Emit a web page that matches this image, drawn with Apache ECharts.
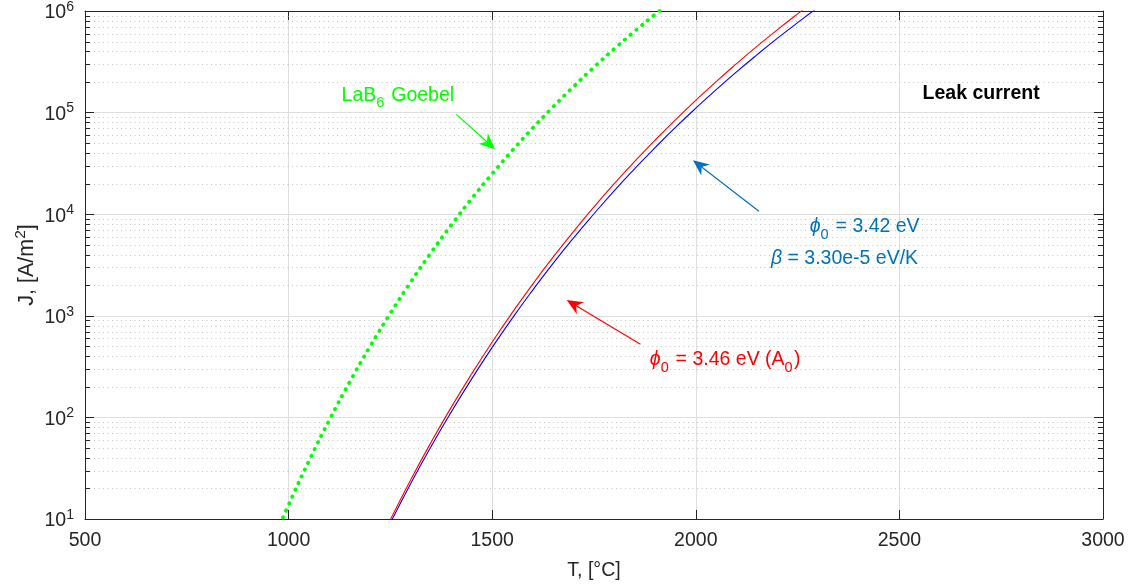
<!DOCTYPE html>
<html><head><meta charset="utf-8">
<script src="https://cdn.jsdelivr.net/npm/echarts@6/dist/echarts.min.js"></script>
<style>html,body{margin:0;padding:0;background:#fff}#c{width:1133px;height:586px}</style>
</head><body><div id="c"></div>
<script>
// ---- data ----
const tempGoebel = [950,1000,1050,1100,1150,1200,1250,1300,1350,1400,1450,1500,1550,1600,1650,1700,1750,1800,1850,1900,1950];
const jGoebel    = [4.74,13.8,37.3,94.1,223,498,1060,2150,4200,7870,14300,25000,42700,70800,114500,181000,280000,425000,633000,927000,1335000];
const tempModel  = [1250,1300,1350,1400,1450,1500,1550,1600,1650,1700,1750,1800,1850,1900,1950,2000,2050,2100,2150,2200,2250,2300];
const jPhi346    = [9.89,24.4,57.0,127,270,552,1086,2064,3800,6790,11800,20000,33100,53600,85000,132000,202000,303000,448000,653000,937000,1328000];
const jPhi342b   = [9.15,22.4,51.8,114,241,489,955,1800,3300,5860,10100,17100,28100,45200,71400,110500,168000,251500,370000,537000,768000,1085000];
const xTickVals  = [500,1000,1500,2000,2500,3000];
const yDecades   = [10,100,1000,10000,100000,1000000];

const FONT = '"Liberation Sans", Arial, Helvetica, sans-serif';
const FS = 19.5;
const AX = '#262626';
const TXT = '#262626';
const X_MIN = xTickVals[0], X_MAX = xTickVals[xTickVals.length-1];
const Y_MIN = yDecades[0], Y_MAX = yDecades[yDecades.length-1];

// minor (2..9) values of each decade for the dotted grid and minor ticks
const minorVals = [];
yDecades.slice(0,-1).forEach(d => { for (let k=2;k<=9;k++) minorVals.push(d*k); });

const chart = echarts.init(document.getElementById('c'), null, {renderer:'canvas'});

const labelRich = {
  b:{fontFamily:FONT,fontSize:FS,color:TXT,lineHeight:28,padding:[4,0,0,0]},
  s:{fontFamily:FONT,fontSize:14,color:TXT,verticalAlign:'top',lineHeight:14,padding:[3,0,0,0]}
};

const option = {
  animation:false,
  backgroundColor:'#fff',
  grid:{left:85,right:30,top:11,bottom:67,containLabel:false,outerBoundsMode:'none'},
  xAxis:[{
    type:'value',min:X_MIN,max:X_MAX,interval:500,position:'bottom',
    name:'T, [°C]',nameLocation:'middle',nameGap:42,nameMoveOverlap:false,
    nameTextStyle:{fontFamily:FONT,fontSize:FS,color:TXT},
    axisLine:{show:true,onZero:false,lineStyle:{color:AX,width:1}},
    axisTick:{show:true,inside:true,length:9,lineStyle:{color:AX}},
    axisLabel:{fontFamily:FONT,fontSize:FS,color:TXT,margin:12,formatter:v=>String(v)},
    splitLine:{show:true,lineStyle:{color:'#dedede',width:1}}
  },{
    type:'value',min:X_MIN,max:X_MAX,interval:500,position:'top',
    axisLine:{show:true,onZero:false,lineStyle:{color:AX,width:1}},
    axisTick:{show:true,inside:true,length:9,lineStyle:{color:AX}},
    axisLabel:{show:false},splitLine:{show:false}
  }],
  yAxis:[{
    type:'log',logBase:10,min:Y_MIN,max:Y_MAX,position:'left',
    name:'J, [A/m{sup|2}]',nameLocation:'middle',nameGap:44,nameMoveOverlap:false,
    nameTextStyle:{fontFamily:FONT,fontSize:21.5,color:TXT,lineHeight:28,
      rich:{sup:{fontFamily:FONT,fontSize:15.5,color:TXT,verticalAlign:'top',lineHeight:14}}},
    axisLine:{show:true,onZero:false,lineStyle:{color:AX,width:1}},
    axisTick:{show:true,inside:true,length:9,lineStyle:{color:AX}},
    axisLabel:{margin:11,formatter:v=>'{b|10}{s|'+Math.round(Math.log10(v))+'}',rich:labelRich},
    splitLine:{show:true,lineStyle:{color:'#dedede',width:1}}
  },{
    type:'log',logBase:10,min:Y_MIN,max:Y_MAX,position:'right',
    axisLine:{show:true,onZero:false,lineStyle:{color:AX,width:1}},
    axisTick:{show:true,inside:true,length:9,lineStyle:{color:AX}},
    axisLabel:{show:false},splitLine:{show:false}
  }],
  series:[{
    type:'custom',coordinateSystem:'cartesian2d',xAxisIndex:0,yAxisIndex:0,
    silent:true,z:1,clip:false,
    data:minorVals.map(v=>[X_MIN,v]),encode:{x:0,y:1},
    renderItem:(params,api)=>{
      const v = api.value(1);
      const p0 = api.coord([X_MIN,v]), p1 = api.coord([X_MAX,v]);
      const y = Math.round(p0[1])+0.5;
      return {type:'group',children:[
        {type:'line',shape:{x1:p0[0],y1:y,x2:p1[0],y2:y},style:{stroke:'#c4c4c4',lineWidth:1,lineDash:[1,3.5]}},
        {type:'line',shape:{x1:p0[0],y1:y,x2:p0[0]+5,y2:y},style:{stroke:AX,lineWidth:1}},
        {type:'line',shape:{x1:p1[0]-5,y1:y,x2:p1[0],y2:y},style:{stroke:AX,lineWidth:1}}
      ]};
    }
  },{
    name:'LaB6 Goebel',type:'line',xAxisIndex:0,yAxisIndex:0,z:3,
    data:tempGoebel.map((t,i)=>[t,jGoebel[i]]),
    smooth:true,symbol:'none',clip:true,
    lineStyle:{color:'#00ff00',width:3.7,type:[0.5,7],cap:'round'}
  },{
    name:'phi0 3.46',type:'line',xAxisIndex:0,yAxisIndex:0,z:3,
    data:tempModel.map((t,i)=>[t,jPhi346[i]]),
    smooth:true,symbol:'none',clip:true,
    lineStyle:{color:'#ff0000',width:1.1}
  },{
    name:'phi0 3.42 beta',type:'line',xAxisIndex:0,yAxisIndex:0,z:3,
    data:tempModel.map((t,i)=>[t,jPhi342b[i]]),
    smooth:true,symbol:'none',clip:true,
    lineStyle:{color:'#0000ff',width:1.1}
  }]
};
chart.setOption(option);

// ---- annotations, anchored in data coordinates ----
const measureCtx = document.createElement('canvas').getContext('2d');
function px(t,j){ return chart.convertToPixel({xAxisIndex:0,yAxisIndex:0},[t,j]); }
function textRun(parts, anchor, align, color, size, weight){
  const p = px(anchor[0],anchor[1]);
  const items = parts.map(([s,kind])=>{
    const fs = kind==='sub' ? 14.5 : size;
    const font = (kind==='it'?'italic ':'normal ') + (weight||'normal') + ' ' + fs + 'px ' + FONT;
    measureCtx.font = font;
    return {s,kind,fs,font,w:measureCtx.measureText(s).width};
  });
  const total = items.reduce((a,b)=>a+b.w,0);
  let x = align==='right' ? p[0]-total : p[0];
  return items.map(it=>{
    const base = p[1] + (it.kind==='sub' ? 6.5 : 0);
    const el = {type:'text',x:x,y:base-0.35*it.fs,z:20,silent:true,
      style:{text:it.s,font:it.font,fill:color,align:'left',verticalAlign:'middle'}};
    x += it.w + (it.kind==='sub' ? 1.5 : 0);
    return el;
  });
}
function arrow(tail, tip, color){
  const a = px(tail[0],tail[1]), b = px(tip[0],tip[1]);
  const dx=a[0]-b[0], dy=a[1]-b[1], len=Math.hypot(dx,dy), ux=dx/len, uy=dy/len;
  const L=16, W=7, N=11;
  const bx=b[0]+ux*L, by=b[1]+uy*L;
  const c1=[bx-uy*W, by+ux*W], c2=[bx+uy*W, by-ux*W];
  const notch=[b[0]+ux*N, b[1]+uy*N];
  return [
    {type:'line',z:20,silent:true,shape:{x1:a[0],y1:a[1],x2:notch[0],y2:notch[1]},style:{stroke:color,lineWidth:1.2}},
    {type:'polygon',z:20,silent:true,shape:{points:[b,c1,notch,c2]},style:{fill:color}}
  ];
}
const BLUE='#0072BD', RED='#ff0000', GREEN='#00ff00';
const els = [].concat(
  textRun([['LaB'],['6','sub'],[' Goebel']],[1130,1.27e5],'left',GREEN,FS),
  arrow([1412,9.6e4],[1507,4.37e4],GREEN),
  textRun([['Leak current']],[2557,1.31e5],'left','#000',FS,'bold'),
  textRun([['ϕ','it'],['0','sub'],[' = 3.42 eV']],[2546,6480],'right',BLUE,FS),
  textRun([['β','it'],[' = 3.30e-5 eV/K']],[2546,3160],'right',BLUE,FS),
  arrow([2155,1.07e4],[1993,3.4e4],BLUE),
  textRun([['ϕ','it'],['0','sub'],[' = 3.46 eV (A'],['0','sub'],[')']],[1887,316],'left',RED,FS),
  arrow([1864,525],[1683,1430],RED)
);
chart.setOption({graphic:{elements:els}});
</script></body></html>
